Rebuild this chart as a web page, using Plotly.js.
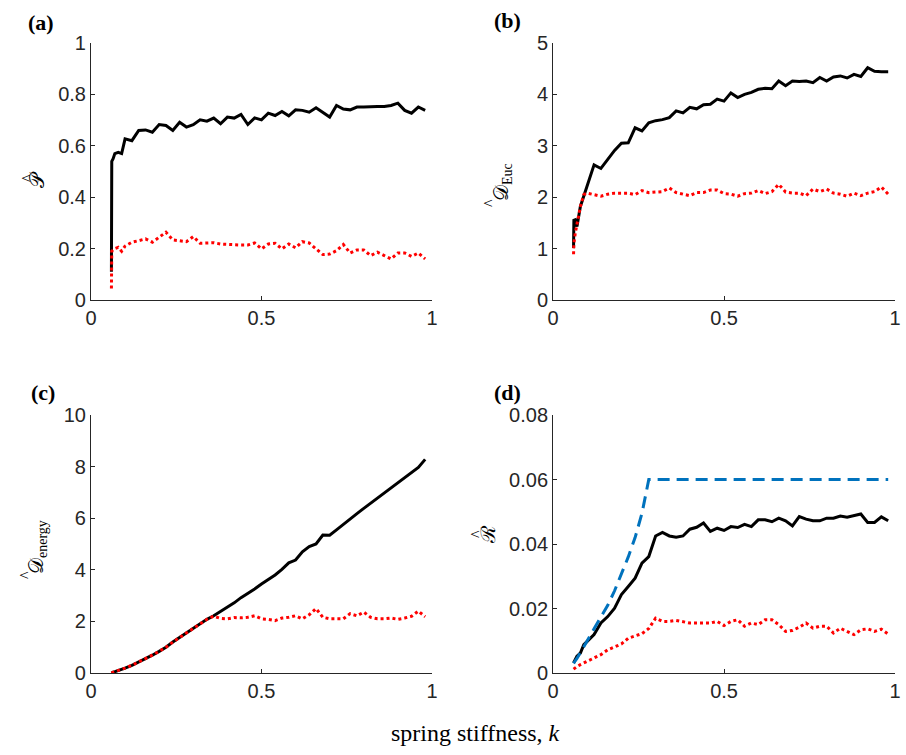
<!DOCTYPE html>
<html>
<head>
<meta charset="utf-8">
<script src="https://cdn.plot.ly/plotly-3.0.1.min.js"></script>
<style>html,body{margin:0;padding:0;background:#fff}#chart{width:906px;height:755px}</style>
</head>
<body>
<div id="chart"></div>
<script>
// spring stiffness values
const k = [0.06,0.061,0.065,0.07,0.08,0.09,0.10,0.12,0.14,0.16,0.18,0.20,0.22,0.24,0.26,0.28,0.30,0.32,0.34,0.36,0.38,0.40,0.42,0.44,0.46,0.48,0.50,0.52,0.54,0.56,0.58,0.60,0.62,0.64,0.66,0.68,0.70,0.72,0.74,0.76,0.78,0.80,0.82,0.84,0.86,0.88,0.90,0.92,0.94,0.96,0.98];

// (a) P-hat
const aBlack = [0.11,0.54,0.55,0.57,0.575,0.57,0.627, 0.62,0.66,0.662,0.653,0.683,0.679,0.66,0.692,0.673,0.682, 0.701,0.696,0.708,0.686,0.712,0.708,0.722,0.683,0.709,0.701, 0.727,0.718,0.734,0.717,0.74,0.738,0.731,0.748,0.731,0.712, 0.757,0.743,0.74,0.751,0.751,0.753,0.753,0.753,0.757,0.766, 0.738,0.727,0.751,0.738];
const aRed = [0.045,0.19,0.195,0.2,0.205,0.19,0.21, 0.225,0.231,0.238,0.225,0.244,0.264,0.234,0.231,0.227,0.247, 0.221,0.222,0.223,0.218,0.216,0.215,0.214,0.214,0.222,0.199, 0.218,0.221,0.199,0.218,0.203,0.227,0.222,0.199,0.177,0.179, 0.192,0.216,0.183,0.195,0.195,0.173,0.186,0.173,0.16,0.183, 0.183,0.17,0.183,0.16];

// (b) D-hat Euc
const bBlack = [1.01,1.55,1.56,1.43,1.82,2.02,2.21, 2.63,2.56,2.74,2.91,3.05,3.06,3.35,3.29,3.45,3.49, 3.51,3.55,3.68,3.64,3.75,3.72,3.80,3.81,3.91,3.87, 4.03,3.94,4.0,4.04,4.10,4.12,4.11,4.26,4.17,4.26, 4.25,4.26,4.23,4.33,4.26,4.34,4.36,4.32,4.39,4.35, 4.52,4.45,4.44,4.44];
const bRed = [0.89,1.1,1.3,1.5,1.82,2.05,2.08, 2.05,2.02,2.06,2.08,2.08,2.08,2.05,2.13,2.09,2.10, 2.11,2.18,2.09,2.06,2.03,2.09,2.09,2.14,2.14,2.07, 2.06,2.02,2.07,2.08,2.13,2.07,2.11,2.25,2.10,2.08, 2.08,2.03,2.16,2.11,2.16,2.08,2.06,2.02,2.08,2.03, 2.08,2.11,2.20,2.06];

// (c) D-hat energy
const cBlack = [0.0,0.01,0.03,0.05,0.09,0.14,0.19, 0.30,0.42,0.55,0.69,0.84,1.0,1.2,1.38,1.57,1.72, 1.90,2.08,2.22,2.38,2.55,2.72,2.92,3.08,3.26,3.45, 3.62,3.80,4.02,4.27,4.38,4.70,4.90,5.0,5.35,5.34, 5.55,5.77,5.98,6.18,6.38,6.58,6.78,6.97,7.17,7.37, 7.57,7.77,7.97,8.28];
const cRed = [0.0,0.01,0.03,0.05,0.09,0.14,0.19, 0.30,0.42,0.55,0.69,0.84,1.0,1.2,1.38,1.57,1.72, 1.90,2.08,2.2,2.12,2.10,2.15,2.14,2.16,2.22,2.10, 2.08,2.03,2.13,2.16,2.22,2.10,2.26,2.50,2.16,2.10, 2.10,2.10,2.30,2.22,2.36,2.16,2.10,2.10,2.13,2.08, 2.13,2.20,2.40,2.18];

// (d) R-hat
const dBlack = [0.0031,0.0033,0.0042,0.0052,0.0062,0.0088,0.0098, 0.0119,0.0155,0.0175,0.0201,0.0243,0.0268,0.0294,0.0341,0.0361,0.0425, 0.0436,0.0425,0.0421,0.0425,0.0446,0.0452,0.0465,0.0439,0.0449,0.0442, 0.0454,0.0451,0.0461,0.0454,0.0475,0.0475,0.0469,0.048,0.0472,0.0456, 0.0485,0.0477,0.0472,0.0472,0.048,0.048,0.0487,0.0483,0.0487,0.0493, 0.0467,0.0467,0.0484,0.0472];
const dRed = [0.0012,0.0013,0.0016,0.002,0.0026,0.0031,0.0037, 0.0047,0.0057,0.0072,0.0080,0.0090,0.0108,0.0114,0.0122,0.0138,0.0170, 0.0160,0.0160,0.0163,0.0158,0.0155,0.0155,0.0155,0.0155,0.016,0.0147, 0.016,0.0165,0.0145,0.0155,0.015,0.0165,0.0165,0.015,0.0129,0.0132, 0.0142,0.0155,0.0139,0.0145,0.0145,0.0124,0.0139,0.0129,0.0119,0.0134, 0.0137,0.0129,0.0136,0.0121];
const dBlue = [0.003,0.0032,0.0038,0.0045,0.0062,0.0082,0.0100, 0.0137,0.0172,0.0210,0.0255,0.0305,0.0360,0.0420,0.0495,0.0600,0.06, 0.06,0.06,0.06,0.06,0.06,0.06,0.06,0.06,0.06,0.06, 0.06,0.06,0.06,0.06,0.06,0.06,0.06,0.06,0.06,0.06, 0.06,0.06,0.06,0.06,0.06,0.06,0.06,0.06,0.06,0.06, 0.06,0.06,0.06,0.06];

const xTickVals = [0, 0.5, 1];
const xTickText = ['0', '0.5', '1'];
const panelLabels = ['(a)', '(b)', '(c)', '(d)'];
const yTitles = ['𝒫', '𝒟<sub>Euc</sub>', '𝒟<sub>energy</sub>', 'ℛ'];
const xTitle = 'spring stiffness, <i>k</i>';

const black = {color: '#000000', width: 3};
const red = {color: '#ff0000', width: 3, dash: 'dot'};
const blue = {color: '#0072BD', width: 3, dash: '12px,7px'};

function tr(y, line, xa, ya) {
  return {x: k, y: y, type: 'scatter', mode: 'lines', line: line, xaxis: xa, yaxis: ya, showlegend: false, hoverinfo: 'skip'};
}

const data = [
  tr(aBlack, black, 'x', 'y'), tr(aRed, red, 'x', 'y'),
  tr(bBlack, black, 'x2', 'y2'), tr(bRed, red, 'x2', 'y2'),
  tr(cBlack, black, 'x3', 'y3'), tr(cRed, red, 'x3', 'y3'),
  tr(dBlack, black, 'x4', 'y4'), tr(dRed, red, 'x4', 'y4'), tr(dBlue, blue, 'x4', 'y4')
];

const tickFont = {family: 'Liberation Sans, Arial, sans-serif', size: 20, color: '#262626'};
function xax(dom, anchor) {
  return {domain: dom, anchor: anchor, range: [0, 1], tickvals: xTickVals, ticktext: xTickText,
    showline: true, linecolor: '#262626', linewidth: 1, ticks: 'inside', ticklen: 4, tickcolor: '#262626',
    showgrid: false, zeroline: false, tickfont: tickFont, fixedrange: true};
}
function yax(dom, anchor, range, dtick) {
  return {domain: dom, anchor: anchor, range: range, dtick: dtick, tick0: 0,
    showline: true, linecolor: '#262626', linewidth: 1, ticks: 'inside', ticklen: 4, tickcolor: '#262626',
    showgrid: false, zeroline: false, tickfont: tickFont, fixedrange: true};
}

const xL = [0.1004, 0.4768], xR = [0.6104, 0.9879];
const yT = [0.6026, 0.943], yB = [0.1086, 0.4503];

const serif = 'Liberation Serif, Times New Roman, serif';
const annotations = [];
const labelPos = [[41, 22], [507, 21], [43, 392], [507, 392]];
panelLabels.forEach((t, i) => {
  annotations.push({text: t, xref: 'paper', yref: 'paper',
    x: labelPos[i][0] / 906, y: 1 - labelPos[i][1] / 755, xanchor: 'center', yanchor: 'middle',
    showarrow: false, font: {family: serif, size: 22, color: '#000', weight: 'bold'}});
});
const yTitlePos = [[37, 180], [502, 182], [37, 547], [488, 535]];
yTitles.forEach((t, i) => {
  annotations.push({text: t, xref: 'paper', yref: 'paper', textangle: -90,
    x: yTitlePos[i][0] / 906, y: 1 - yTitlePos[i][1] / 755, xanchor: 'center', yanchor: 'middle',
    showarrow: false, font: {family: serif, size: 20, color: '#000'}});
});
// circumflex accents (hats) over the script letters
const hatPos = [[27, 178], [490, 203], [25, 575], [476, 534]];
hatPos.forEach((p) => {
  annotations.push({text: '^', xref: 'paper', yref: 'paper', textangle: -90,
    x: p[0] / 906, y: 1 - p[1] / 755, xanchor: 'center', yanchor: 'middle',
    showarrow: false, font: {family: serif, size: 16, color: '#000'}});
});
annotations.push({text: xTitle, xref: 'paper', yref: 'paper',
  x: 475 / 906, y: 1 - 733 / 755, xanchor: 'center', yanchor: 'middle', showarrow: false,
  font: {family: serif, size: 24, color: '#000'}});

const layout = {
  width: 906, height: 755,
  margin: {l: 0, r: 0, t: 0, b: 0},
  paper_bgcolor: '#ffffff', plot_bgcolor: '#ffffff',
  showlegend: false,
  xaxis: xax(xL, 'y'), yaxis: yax(yT, 'x', [0, 1], 0.2),
  xaxis2: xax(xR, 'y2'), yaxis2: yax(yT, 'x2', [0, 5], 1),
  xaxis3: xax(xL, 'y3'), yaxis3: yax(yB, 'x3', [0, 10], 2),
  xaxis4: xax(xR, 'y4'), yaxis4: yax(yB, 'x4', [0, 0.08], 0.02),
  annotations: annotations
};

Plotly.newPlot('chart', data, layout, {displayModeBar: false, staticPlot: true});
</script>
</body>
</html>
